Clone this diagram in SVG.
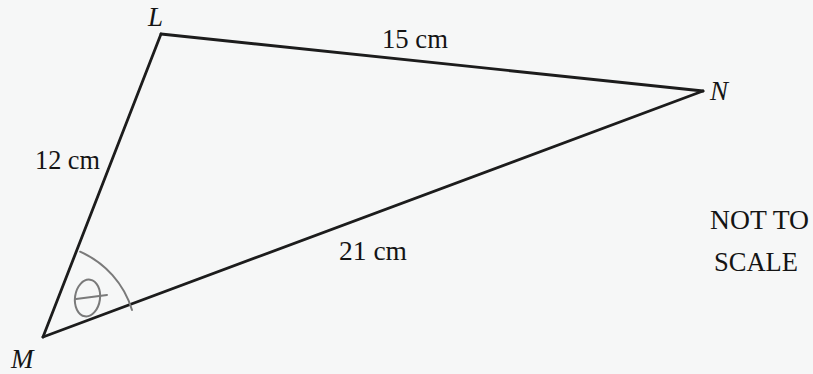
<svg xmlns="http://www.w3.org/2000/svg" width="813" height="374" viewBox="0 0 813 374">
<style>
.edge{stroke:#1c1c1c;stroke-width:2.8;fill:none;stroke-linecap:round;stroke-linejoin:round}
.hand{stroke:#7a7a7a;stroke-width:2;fill:none;stroke-linecap:round}
.vlab{font-style:italic;font-size:27px;fill:#141414}
.elab{font-size:28px;fill:#141414}
</style>
<rect width="813" height="374" fill="#f6f7f7"/>
<g font-family="'Liberation Serif', 'Times New Roman', 'DejaVu Serif', serif">
<g id="connectors">
<line id="LN" class="edge" x1="161" y1="34" x2="703" y2="91"/>
<line id="ML" class="edge" x1="43" y1="337" x2="161" y2="34"/>
<line id="MN" class="edge" x1="43" y1="337" x2="703" y2="91"/>
<text class="elab" x="382" y="48" textLength="66" lengthAdjust="spacingAndGlyphs">15 cm</text>
<text class="elab" x="35" y="169" textLength="65" lengthAdjust="spacingAndGlyphs">12 cm</text>
<text class="elab" x="339" y="260" textLength="68" lengthAdjust="spacingAndGlyphs">21 cm</text>
</g>
<g id="node-L"><text class="vlab" x="148" y="26">L</text></g>
<g id="node-N"><text class="vlab" x="710" y="100">N</text></g>
<g id="node-M"><text class="vlab" x="11" y="368">M</text></g>
<g id="angle-theta">
<path class="hand" d="M80.1,251.7 A93,93 0 0 1 132,310"/>
<ellipse class="hand" cx="87.5" cy="298" rx="12.5" ry="18.5" transform="rotate(8 87.5 298)"/>
<line class="hand" x1="76" y1="299" x2="107" y2="295"/>
</g>
<g id="note">
<text class="elab" x="710" y="229" textLength="99" lengthAdjust="spacingAndGlyphs">NOT TO</text>
<text class="elab" x="714" y="271" textLength="84" lengthAdjust="spacingAndGlyphs">SCALE</text>
</g>
</g>
</svg>
